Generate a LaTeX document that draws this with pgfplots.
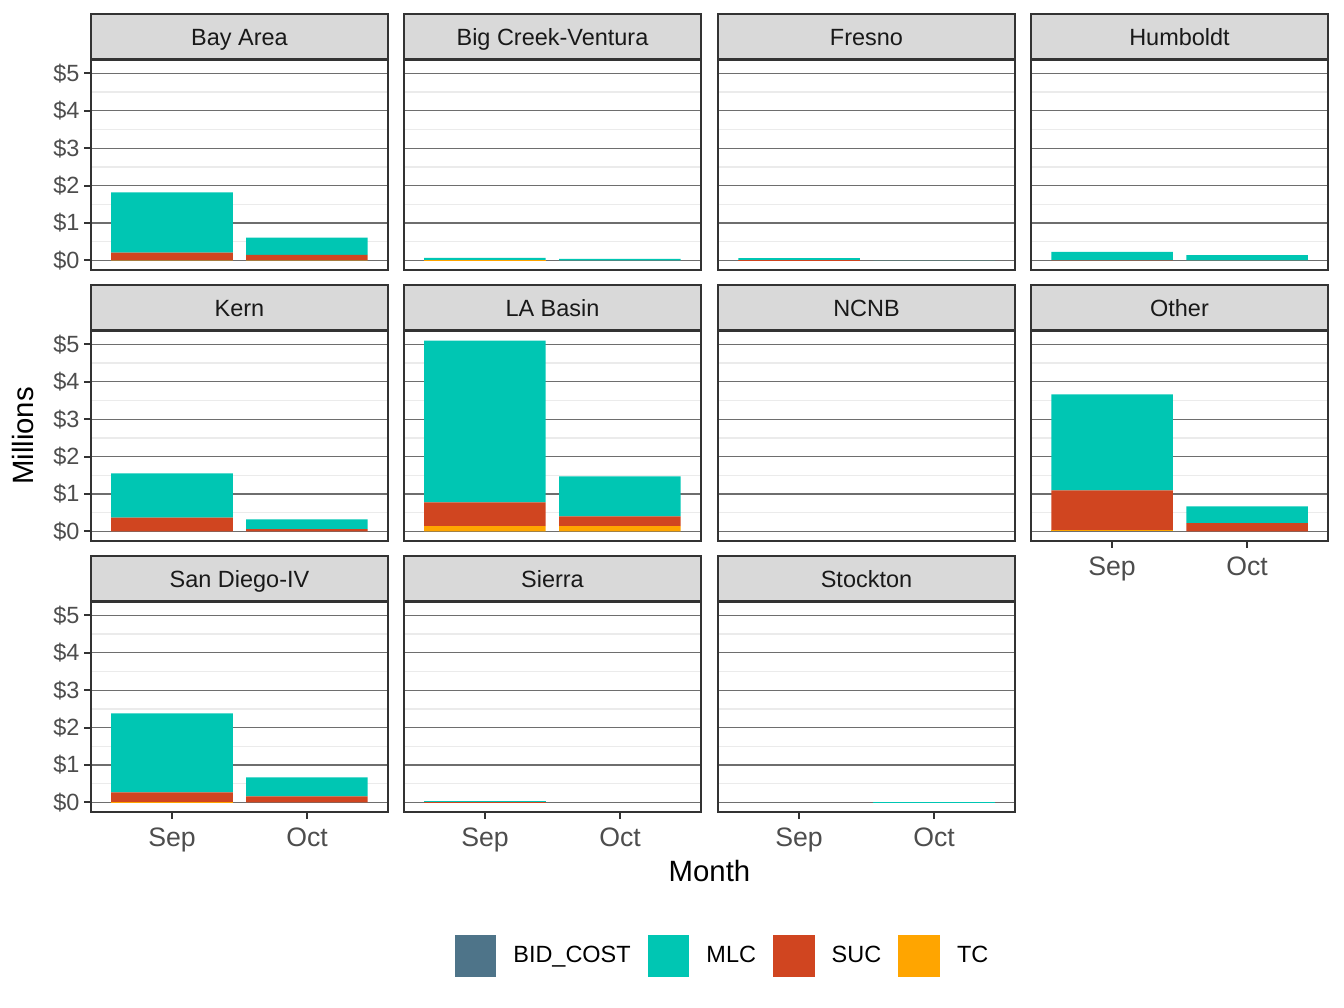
\documentclass[border=0pt]{standalone}
\usepackage{fontspec}
\setmainfont{Liberation Sans}
\usepackage{pgfplots}
\usepackage{pgfplotstable}
\pgfplotsset{compat=1.18}

\definecolor{cBID}{HTML}{4E7489}
\definecolor{cMLC}{HTML}{00C6B3}
\definecolor{cSUC}{HTML}{D04520}
\definecolor{cTC}{HTML}{FFA500}
\definecolor{stripfill}{HTML}{D9D9D9}
\definecolor{frame}{HTML}{333333}
\definecolor{gridmaj}{HTML}{6E6E6E}
\definecolor{gridmin}{HTML}{EBEBEB}
\definecolor{ticktext}{HTML}{4D4D4D}

% m: 1 = Sep, 2 = Oct ; values in millions
\pgfplotstableread{
m TC SUC MLC BID
1 0.01 0.20 1.61 0
2 0.01 0.14 0.46 0
}\tBayArea
\pgfplotstableread{
m TC SUC MLC BID
1 0.005 0.005 0.06 0
2 0 0 0.04 0
}\tBigCreek
\pgfplotstableread{
m TC SUC MLC BID
1 0 0.005 0.055 0
2 0 0 0.005 0
}\tFresno
\pgfplotstableread{
m TC SUC MLC BID
1 0 0.01 0.22 0
2 0 0.005 0.14 0
}\tHumboldt
\pgfplotstableread{
m TC SUC MLC BID
1 0 0.37 1.18 0
2 0 0.06 0.26 0
}\tKern
\pgfplotstableread{
m TC SUC MLC BID
1 0.14 0.64 4.32 0
2 0.14 0.26 1.07 0
}\tLABasin
\pgfplotstableread{
m TC SUC MLC BID
1 0 0 0 0
2 0 0 0 0
}\tNCNB
\pgfplotstableread{
m TC SUC MLC BID
1 0.03 1.07 2.56 0
2 0 0.22 0.45 0
}\tOther
\pgfplotstableread{
m TC SUC MLC BID
1 0.01 0.26 2.11 0
2 0 0.16 0.51 0
}\tSanDiego
\pgfplotstableread{
m TC SUC MLC BID
1 0 0.003 0.045 0
2 0 0 0 0
}\tSierra
\pgfplotstableread{
m TC SUC MLC BID
1 0 0 0 0
2 0 0 0.005 0
}\tStockton

\pgfplotsset{
  sq/.style={draw=none, legend image code/.code={\fill[##1] (0pt,-7.8pt) rectangle (15.6pt,7.8pt);}},
  panel/.style={
    scale only axis, width=111.375pt, height=78.75pt, anchor=south west,
    xmin=0.4, xmax=2.6, ymin=-0.255, ymax=5.355,
    ybar stacked, bar width=45.5625pt,
    axis line style={draw=frame, line width=0.75pt},
    xtick={1,2}, xticklabels={Sep,Oct},
    ytick={0,1,2,3,4,5}, yticklabels={\$0,\$1,\$2,\$3,\$4,\$5},
    minor ytick={0.5,1.5,2.5,3.5,4.5},
    ymajorgrids, yminorgrids,
    major grid style={draw=gridmaj, line width=0.4pt},
    minor grid style={draw=gridmin, line width=0.5pt},
    tick align=outside, major tick length=2.6pt, minor tick length=0pt,
    xtick pos=bottom, ytick pos=left,
    major tick style={draw=frame, line width=0.75pt},
    yticklabel style={font=\fontsize{8.8}{10}\selectfont, text=ticktext, inner sep=0pt, xshift=-1.5pt},
    xticklabel style={font=\fontsize{10}{12}\selectfont, text=ticktext, inner sep=0pt, yshift=-3pt},
    every axis title shift=0pt,
    title style={at={(0.5,1)}, anchor=south, yshift=0pt, fill=stripfill, draw=frame, line width=0.75pt,
      minimum width=111.375pt, minimum height=16.875pt, inner sep=0pt,
      text height=8.6pt, text depth=1.9pt,
      font=\fontsize{8.8}{10}\selectfont, text=black!90},
  },
  noxlab/.style={xticklabels={}, xtick style={draw=none}},
  noylab/.style={yticklabels={}, ytick style={draw=none}},
}

\newcommand{\bars}[1]{%
  \addplot[fill=cTC, sq] table[x=m, y=TC]{#1};
  \addplot[fill=cSUC, sq] table[x=m, y=SUC]{#1};
  \addplot[fill=cMLC, sq] table[x=m, y=MLC]{#1};
  \addplot[fill=cBID, sq] table[x=m, y=BID]{#1};
}

\begin{document}
\begin{tikzpicture}
\useasboundingbox (0,0) rectangle (504pt,378pt);

% row 1
\begin{axis}[panel, noxlab, at={(34.125pt,276.75pt)}, title={Bay Area}]
\bars{\tBayArea}
\end{axis}
\begin{axis}[panel, noxlab, noylab, at={(151.5pt,276.75pt)}, title={Big Creek-Ventura}]
\bars{\tBigCreek}
\end{axis}
\begin{axis}[panel, noxlab, noylab, at={(269.25pt,276.75pt)}, title={Fresno}]
\bars{\tFresno}
\end{axis}
\begin{axis}[panel, noxlab, noylab, at={(386.625pt,276.75pt)}, title={Humboldt}]
\bars{\tHumboldt}
\end{axis}

% row 2
\begin{axis}[panel, noxlab, at={(34.125pt,175.125pt)}, title={Kern}]
\bars{\tKern}
\end{axis}
\begin{axis}[panel, noxlab, noylab, at={(151.5pt,175.125pt)}, title={LA Basin}]
\bars{\tLABasin}
\end{axis}
\begin{axis}[panel, noxlab, noylab, at={(269.25pt,175.125pt)}, title={NCNB}]
\bars{\tNCNB}
\end{axis}
\begin{axis}[panel, noylab, at={(386.625pt,175.125pt)}, title={Other}]
\bars{\tOther}
\end{axis}

% row 3
\begin{axis}[panel, at={(34.125pt,73.5pt)}, title={San Diego-IV}]
\bars{\tSanDiego}
\end{axis}
\begin{axis}[panel, noylab, at={(151.5pt,73.5pt)}, title={Sierra}]
\bars{\tSierra}
\end{axis}
\begin{axis}[panel, noylab, at={(269.25pt,73.5pt)}, title={Stockton},
  legend columns=4, reverse legend,
  legend style={at={(0.0118,-0.686)}, anchor=center, draw=none, fill=none,
    column sep=6.4pt, font=\fontsize{8.8}{10}\selectfont, nodes={inner sep=0pt}}]
\bars{\tStockton}
\legend{TC,SUC,MLC,BID\_COST}
\end{axis}

\node[rotate=90, anchor=base, font=\fontsize{11}{13}\selectfont] at (12.4pt,214.5pt) {Millions};
\node[anchor=base, font=\fontsize{11}{13}\selectfont] at (266.06pt,47.4pt) {Month};
\end{tikzpicture}
\end{document}
